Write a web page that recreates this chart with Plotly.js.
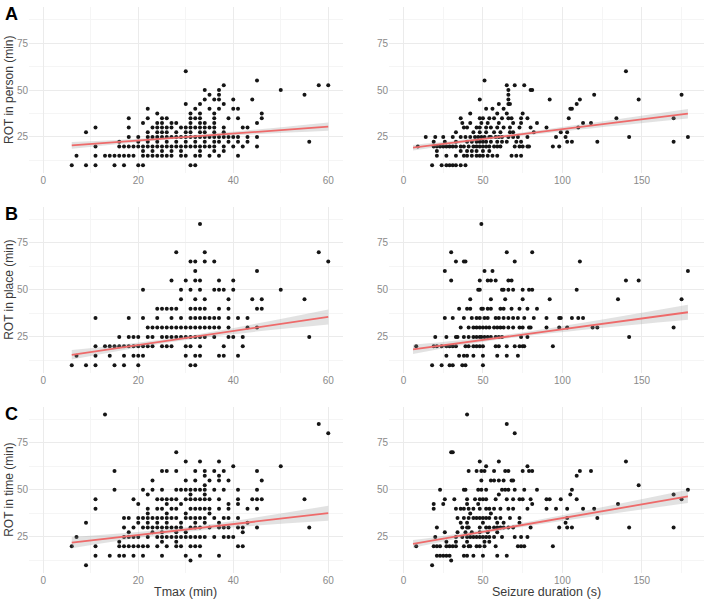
<!DOCTYPE html>
<html>
<head>
<meta charset="utf-8">
<script src="https://cdn.plot.ly/plotly-3.0.1.min.js"></script>
<style>
  html, body { margin: 0; padding: 0; background: #fff; }
  #chart { width: 704px; height: 600px; }
</style>
</head>
<body>
<div id="chart"></div>
<script>
// ---- Observations, grouped by ROT value: [ROT (min), [x values ...]] ----

// ROT in person vs Tmax (min)
const personTmaxRows = [
  [10,   [6, 9, 11, 15, 17, 20, 21, 31, 32]],
  [15,   [7, 11, 13, 14, 15, 16, 17, 18, 19, 21, 22, 23, 24, 25, 26, 27, 29, 30, 32, 33, 35, 37, 41]],
  [17.5, [21, 23, 25, 27, 29, 33, 36, 38]],
  [20,   [11, 16, 17, 18, 19, 20, 21, 22, 23, 24, 25, 26, 27, 28, 29, 30, 31, 32, 33, 34, 35, 36, 38, 40, 42, 45]],
  [22.5, [16, 20, 22, 24, 26, 28, 30, 32, 34, 36, 37, 39, 41, 43, 56]],
  [25,   [18, 20, 22, 23, 24, 25, 26, 27, 28, 29, 30, 31, 32, 33, 34, 35, 36, 37, 38, 39, 40, 41, 43, 45]],
  [27.5, [9, 22, 24, 25, 26, 28, 30, 31, 33, 34, 36, 38]],
  [30,   [11, 18, 23, 24, 25, 26, 27, 29, 30, 31, 32, 33, 34, 35, 36, 38, 42, 43]],
  [32.5, [21, 24, 25, 27, 28, 31, 33, 34, 36, 45]],
  [35,   [18, 22, 25, 26, 31, 32, 33, 36, 39, 41, 46]],
  [37.5, [24, 31, 33, 36, 46]],
  [40,   [22, 32, 35, 37, 40, 41]],
  [42.5, [30, 33, 38]],
  [45,   [34, 36, 37, 40, 44]],
  [47.5, [35, 37, 55]],
  [50,   [34, 37, 50]],
  [52.5, [38, 58, 60]],
  [55,   [45]],
  [60,   [30]]
];

// ROT in person vs seizure duration (s)
const personSeizureRows = [
  [10,   [18, 24, 27, 29, 31, 33, 36, 39]],
  [15,   [21, 27, 33, 38, 40, 43, 46, 48, 50, 53, 56, 59, 68, 71, 74]],
  [17.5, [21, 36, 40, 43, 46, 50, 54]],
  [20,   [9, 19, 21, 23, 25, 27, 29, 31, 33, 36, 38, 41, 44, 46, 48, 50, 52, 54, 57, 59, 61, 70, 73, 75, 78, 79, 94, 98]],
  [22.5, [19, 26, 33, 40, 43, 46, 48, 50, 52, 55, 59, 62, 65, 71, 74, 103, 106, 122, 170]],
  [25,   [14, 20, 25, 31, 36, 39, 42, 45, 47, 49, 51, 54, 55, 58, 60, 62, 66, 69, 72, 78, 96, 102, 142, 179]],
  [27.5, [33, 44, 48, 52, 57, 61, 67, 69, 82, 99, 103]],
  [30,   [38, 40, 46, 48, 52, 55, 59, 63, 67, 73, 80, 90, 110]],
  [32.5, [37, 42, 49, 53, 60, 69, 74, 84, 113, 118]],
  [35,   [36, 48, 50, 54, 57, 62, 66, 68, 74, 78, 104, 134, 170]],
  [37.5, [42, 59, 65, 75]],
  [40,   [52, 56, 63, 105, 106]],
  [42.5, [60, 66, 67, 109]],
  [45,   [48, 66, 92, 111, 148]],
  [47.5, [66, 120, 175]],
  [50,   [66, 80, 81]],
  [52.5, [65, 70, 76]],
  [55,   [51]],
  [60,   [140]]
];

// ROT in place vs Tmax (min)
const placeTmaxRows = [
  [10, [6, 9, 11, 15, 17, 20, 31, 32]],
  [15, [7, 11, 14, 17, 19, 20, 21, 30, 32, 33, 37, 38, 41]],
  [20, [11, 13, 14, 15, 16, 17, 18, 19, 20, 21, 22, 23, 25, 26, 27, 30, 31, 33, 38, 42]],
  [25, [16, 18, 19, 20, 22, 23, 25, 26, 27, 28, 29, 30, 31, 32, 33, 34, 36, 39, 40, 42, 56]],
  [30, [22, 23, 24, 25, 26, 27, 28, 29, 30, 31, 32, 33, 34, 35, 36, 37, 39, 43, 45]],
  [35, [11, 18, 21, 24, 27, 29, 31, 32, 33, 34, 35, 36, 37, 39, 41, 43]],
  [40, [24, 25, 26, 27, 28, 31, 32, 33, 34, 37, 39, 45, 46]],
  [45, [29, 32, 34, 39, 44, 46, 55]],
  [50, [21, 29, 31, 33, 36, 37, 38, 40, 50]],
  [55, [27, 30, 32, 33, 37, 40]],
  [60, [32, 45]],
  [65, [31, 32, 34, 36, 60]],
  [70, [28, 34, 58]],
  [85, [33]]
];

// ROT in place vs seizure duration (s)
const placeSeizureRows = [
  [10, [18, 24, 29, 31, 37, 39, 50]],
  [15, [27, 35, 38, 40, 44, 50, 59, 65, 72]],
  [20, [8, 19, 21, 24, 27, 29, 31, 33, 39, 41, 44, 46, 48, 50, 58, 60, 65, 70, 73, 75, 76, 94]],
  [25, [20, 27, 33, 34, 38, 41, 44, 46, 48, 49, 51, 53, 55, 58, 60, 62, 74, 78, 142]],
  [30, [36, 41, 44, 46, 48, 50, 52, 54, 57, 59, 61, 63, 66, 69, 73, 75, 79, 80, 90, 98, 103, 119, 122, 170]],
  [35, [26, 31, 38, 43, 46, 48, 51, 53, 58, 60, 63, 66, 69, 72, 76, 82, 90, 98, 99, 106, 110, 113]],
  [40, [35, 40, 42, 49, 50, 53, 55, 61, 63, 68, 73, 78, 84]],
  [45, [42, 55, 64, 75, 92, 135, 175]],
  [50, [47, 48, 62, 63, 66, 69, 75, 79, 81, 109]],
  [55, [30, 48, 53, 55, 58, 66, 68, 140, 148]],
  [60, [26, 51, 56, 179]],
  [65, [33, 38, 39, 70, 111]],
  [70, [30, 65, 81]],
  [85, [49]]
];

// ROT in time vs Tmax (min)
const timeTmaxRows = [
  [10,   [9]],
  [12.5, [31]],
  [15,   [11, 14, 16, 17, 19, 21, 25, 30, 33, 37]],
  [20,   [6, 11, 16, 17, 18, 19, 20, 21, 22, 24, 26, 28, 29, 31, 32, 33, 41, 42]],
  [22.5, [16, 25, 28]],
  [25,   [7, 17, 18, 19, 20, 22, 24, 25, 26, 27, 28, 29, 30, 31, 32, 33, 34, 36, 38, 39, 40]],
  [27.5, [18, 23, 25, 28, 30, 42]],
  [30,   [17, 19, 21, 22, 23, 24, 25, 26, 27, 28, 29, 31, 32, 33, 35, 37, 38, 39, 41, 42, 45, 56]],
  [32.5, [9, 20, 22, 24, 26, 29, 32, 34, 37, 43]],
  [35,   [17, 18, 20, 21, 22, 23, 24, 25, 26, 27, 28, 30, 31, 32, 33, 34, 36, 38, 39, 41]],
  [37.5, [22, 26, 30, 35]],
  [40,   [11, 22, 24, 25, 27, 28, 31, 32, 33, 34, 35, 37, 39, 43, 45]],
  [42.5, [20, 26, 29, 39, 41]],
  [45,   [11, 19, 24, 25, 26, 27, 28, 30, 31, 32, 33, 34, 35, 37, 41, 44, 45, 46, 55]],
  [47.5, [22, 31, 34]],
  [50,   [15, 21, 23, 25, 28, 29, 30, 31, 32, 33, 34, 36, 38, 41, 45]],
  [52.5, [34]],
  [55,   [23, 30, 32, 35, 37, 39, 46]],
  [57.5, [34, 37]],
  [60,   [15, 25, 26, 28, 32, 34, 36, 38, 45]],
  [62.5, [40, 50]],
  [65,   [30, 33, 37]],
  [70,   [28]],
  [80,   [60]],
  [85,   [58]],
  [90,   [13]]
];

// ROT in time vs seizure duration (s)
const timeSeizureRows = [
  [10,   [18]],
  [12.5, [30]],
  [15,   [21, 23, 25, 27, 29, 38, 40, 44, 50, 59, 65]],
  [20,   [8, 19, 21, 23, 27, 29, 31, 33, 38, 41, 42, 46, 48, 51, 58, 72, 74, 76, 94]],
  [22.5, [27, 33, 40, 51, 54]],
  [25,   [20, 33, 37, 40, 42, 44, 46, 48, 50, 52, 54, 57, 62, 70, 74, 78]],
  [27.5, [26, 34, 39, 43, 48, 53, 59]],
  [30,   [21, 37, 40, 41, 48, 52, 54, 57, 59, 61, 63, 66, 69, 80, 98, 103, 106, 142, 170]],
  [32.5, [36, 40, 50, 59, 63, 73, 102]],
  [35,   [34, 38, 41, 44, 46, 48, 50, 52, 54, 58, 61, 67, 73, 103, 122]],
  [37.5, [42, 55]],
  [40,   [19, 33, 36, 38, 41, 44, 48, 52, 54, 57, 61, 66, 69, 78, 90, 96, 103, 113, 120]],
  [42.5, [19, 25, 40, 47, 81, 135]],
  [45,   [26, 32, 40, 45, 48, 50, 52, 58, 65, 69, 73, 75, 80, 90, 92, 99, 109, 175]],
  [47.5, [60, 105, 170]],
  [50,   [23, 38, 39, 47, 49, 52, 62, 64, 66, 70, 76, 84, 106, 179]],
  [52.5, [148]],
  [55,   [49, 55, 57, 60, 63, 68, 69]],
  [57.5, [109]],
  [60,   [41, 46, 49, 51, 57, 64, 66, 75, 79, 81, 111, 118]],
  [62.5, [52, 78]],
  [65,   [48, 60, 140]],
  [70,   [30, 31]],
  [80,   [70]],
  [85,   [65]],
  [90,   [40]]
];

// ---- Linear fits with 95% confidence band: x, fitted value, lower, upper ----
const personTmaxFitX  = [6, 30, 60];
const personTmaxFitY  = [20.5, 25.0, 30.5];
const personTmaxFitLo = [18.7, 24.3, 28.3];
const personTmaxFitHi = [22.3, 25.7, 32.7];

const personSeizureFitX  = [6, 60, 179];
const personSeizureFitY  = [19.3, 25.0, 37.4];
const personSeizureFitLo = [17.8, 24.2, 34.9];
const personSeizureFitHi = [20.8, 25.8, 39.9];

const placeTmaxFitX  = [6, 30, 60];
const placeTmaxFitY  = [15.5, 24.4, 35.6];
const placeTmaxFitLo = [13.0, 23.4, 31.6];
const placeTmaxFitHi = [18.0, 25.4, 39.6];

const placeSeizureFitX  = [6, 60, 179];
const placeSeizureFitY  = [18.4, 24.6, 38.1];
const placeSeizureFitLo = [15.9, 23.6, 34.1];
const placeSeizureFitHi = [20.9, 25.6, 42.1];

const timeTmaxFitX  = [6, 30, 60];
const timeTmaxFitY  = [22.0, 28.9, 37.6];
const timeTmaxFitLo = [19.0, 27.7, 33.6];
const timeTmaxFitHi = [25.0, 30.1, 41.6];

const timeSeizureFitX  = [6, 60, 179];
const timeSeizureFitY  = [21.3, 29.2, 46.5];
const timeSeizureFitLo = [19.3, 28.2, 43.0];
const timeSeizureFitHi = [23.3, 30.2, 50.0];

// ---- Axis labels ----
const rowTags = ['A', 'B', 'C'];
const rowTitles = ['ROT in person (min)', 'ROT in place (min)', 'ROT in time (min)'];
const colTitles = ['Tmax (min)', 'Seizure duration (s)'];

// ---- Helpers ----
function expandRows(rows) {
  const xs = [], ys = [];
  rows.forEach(([y, xList]) => xList.forEach(x => { xs.push(x); ys.push(y); }));
  return { xs, ys };
}

const W = 704, H = 600;
const FONT = 'Liberation Sans, Arial, Helvetica, sans-serif';

// panel layout in pixels
const colPx = [[29, 342.5], [389.2, 703.8]];
const rowPx = [[7.3, 172.7], [207, 372.7], [407, 572.7]];

const panels = [
  { rows: personTmaxRows,    fx: personTmaxFitX,    fy: personTmaxFitY,    lo: personTmaxFitLo,    hi: personTmaxFitHi },
  { rows: personSeizureRows, fx: personSeizureFitX, fy: personSeizureFitY, lo: personSeizureFitLo, hi: personSeizureFitHi },
  { rows: placeTmaxRows,     fx: placeTmaxFitX,     fy: placeTmaxFitY,     lo: placeTmaxFitLo,     hi: placeTmaxFitHi },
  { rows: placeSeizureRows,  fx: placeSeizureFitX,  fy: placeSeizureFitY,  lo: placeSeizureFitLo,  hi: placeSeizureFitHi },
  { rows: timeTmaxRows,      fx: timeTmaxFitX,      fy: timeTmaxFitY,      lo: timeTmaxFitLo,      hi: timeTmaxFitHi },
  { rows: timeSeizureRows,   fx: timeSeizureFitX,   fy: timeSeizureFitY,   lo: timeSeizureFitLo,   hi: timeSeizureFitHi }
];

const traces = [];
const layout = {
  width: W, height: H,
  margin: { l: 0, r: 0, t: 0, b: 0 },
  paper_bgcolor: '#ffffff',
  plot_bgcolor: 'rgba(0,0,0,0)',
  showlegend: false,
  font: { family: FONT, color: '#333333' },
  annotations: []
};

panels.forEach((p, i) => {
  const row = Math.floor(i / 2), col = i % 2;
  const n = i + 1;
  const xa = 'x' + (n === 1 ? '' : n), ya = 'y' + (n === 1 ? '' : n);
  const xKey = 'xaxis' + (n === 1 ? '' : n), yKey = 'yaxis' + (n === 1 ? '' : n);

  const pts = expandRows(p.rows);
  traces.push({
    type: 'scatter', mode: 'markers', x: pts.xs, y: pts.ys, xaxis: xa, yaxis: ya,
    marker: { size: 4, color: '#151515' }, hoverinfo: 'x+y'
  });
  // confidence band
  traces.push({
    type: 'scatter', mode: 'lines', x: p.fx, y: p.lo, xaxis: xa, yaxis: ya,
    line: { width: 0, shape: 'spline' }, hoverinfo: 'skip'
  });
  traces.push({
    type: 'scatter', mode: 'lines', x: p.fx, y: p.hi, xaxis: xa, yaxis: ya,
    line: { width: 0, shape: 'spline' }, fill: 'tonexty',
    fillcolor: 'rgba(150,150,150,0.28)', hoverinfo: 'skip'
  });
  // fitted line
  traces.push({
    type: 'scatter', mode: 'lines', x: p.fx, y: p.fy, xaxis: xa, yaxis: ya,
    line: { color: '#ee6a6a', width: 1.8 }, hoverinfo: 'skip'
  });

  const isLeft = col === 0;
  layout[xKey] = {
    domain: [colPx[col][0] / W, colPx[col][1] / W],
    range: isLeft ? [-3, 63] : [-9, 189],
    anchor: ya,
    tick0: 0, dtick: isLeft ? 20 : 50,
    showgrid: true, gridcolor: '#ebebeb', gridwidth: 1,
    minor: { dtick: isLeft ? 10 : 25, tick0: 0, showgrid: true, gridcolor: '#f5f5f5', gridwidth: 1 },
    zeroline: false, showline: false, ticks: '',
    tickfont: { family: FONT, size: 10, color: '#8a8a8a' },
    fixedrange: true
  };
  layout[yKey] = {
    domain: [1 - rowPx[row][1] / H, 1 - rowPx[row][0] / H],
    range: [6, 94],
    anchor: xa,
    tick0: 0, dtick: 25,
    showgrid: true, gridcolor: '#ebebeb', gridwidth: 1,
    minor: { dtick: 12.5, tick0: 0, showgrid: true, gridcolor: '#f5f5f5', gridwidth: 1 },
    zeroline: false, showline: false, ticks: '',
    tickfont: { family: FONT, size: 10, color: '#8a8a8a' },
    fixedrange: true
  };
});

// row tags and y titles
rowTags.forEach((tag, r) => {
  layout.annotations.push({
    text: '<b>' + tag + '</b>', xref: 'paper', yref: 'paper',
    x: 3 / W, y: 1 - (rowPx[r][0] - 5) / H, xanchor: 'left', yanchor: 'top',
    showarrow: false, font: { family: FONT, size: 18, color: '#000000' }
  });
  layout.annotations.push({
    text: rowTitles[r], xref: 'paper', yref: 'paper', textangle: -90,
    x: 9 / W, y: 1 - ((rowPx[r][0] + rowPx[r][1]) / 2) / H,
    xanchor: 'center', yanchor: 'middle',
    showarrow: false, font: { family: FONT, size: 12, color: '#3a3a3a' }
  });
});

// x titles
colTitles.forEach((t, c) => {
  layout.annotations.push({
    text: t, xref: 'paper', yref: 'paper',
    x: ((colPx[c][0] + colPx[c][1]) / 2) / W, y: 1 - 592 / H,
    xanchor: 'center', yanchor: 'middle',
    showarrow: false, font: { family: FONT, size: 12.5, color: '#3a3a3a' }
  });
});

Plotly.newPlot('chart', traces, layout, { displayModeBar: false, staticPlot: true });
</script>
</body>
</html>
